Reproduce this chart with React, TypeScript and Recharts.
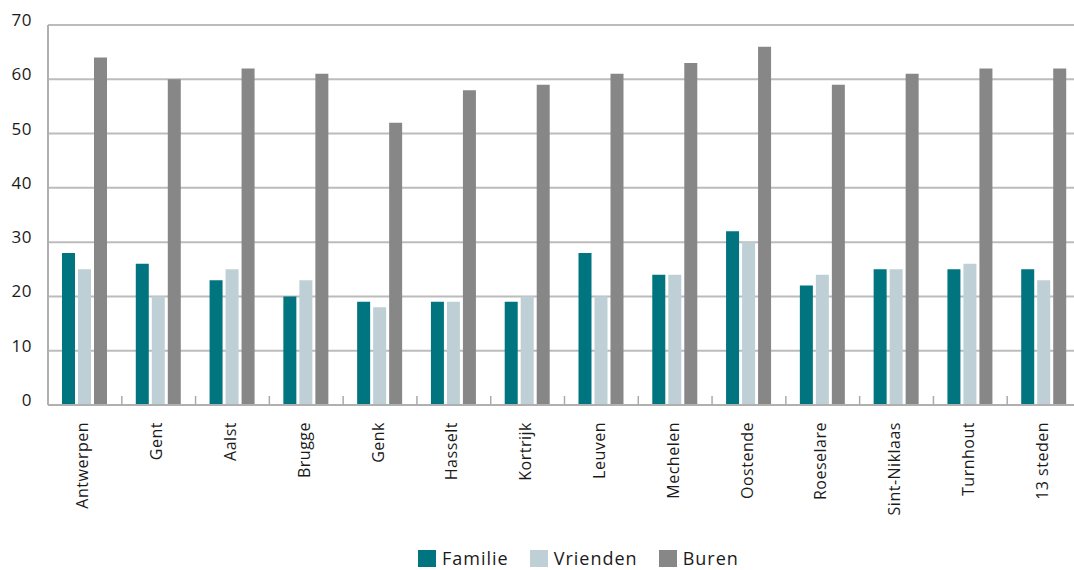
import React from 'react';
import { BarChart, Bar, XAxis, YAxis, CartesianGrid, Legend } from 'recharts';

const categories = ['Antwerpen', 'Gent', 'Aalst', 'Brugge', 'Genk', 'Hasselt', 'Kortrijk', 'Leuven', 'Mechelen', 'Oostende', 'Roeselare', 'Sint-Niklaas', 'Turnhout', '13 steden'];
const familie = [28, 26, 23, 20, 19, 19, 19, 28, 24, 32, 22, 25, 25, 25];
const vrienden = [25, 20, 25, 23, 18, 19, 20, 20, 24, 30, 24, 25, 26, 23];
const buren = [64, 60, 62, 61, 52, 58, 59, 61, 63, 66, 59, 61, 62, 62];
const yTicks = [0, 10, 20, 30, 40, 50, 60, 70];

const series = [
  { key: 'Familie', color: '#00747f' },
  { key: 'Vrienden', color: '#bed0d6' },
  { key: 'Buren', color: '#878787' },
];

const data = categories.map((name, i) => ({
  name,
  Familie: familie[i],
  Vrienden: vrienden[i],
  Buren: buren[i],
}));

const FONT = '"Open Sans", "Noto Sans", sans-serif';

const YTick = (props: any) => {
  const { x, y, payload } = props;
  return (
    <text x={x} y={y - 5} dy="0.355em" textAnchor="end" fill="#1a1a1a" fontSize={17} letterSpacing={0.5} fontFamily={FONT}>
      {payload.value}
    </text>
  );
};

const XTick = (props: any) => {
  const { x, y, payload, index, width, visibleTicksCount } = props;
  const half = payload && payload.offset ? payload.offset : width / visibleTicksCount / 2;
  const bx = x - half;
  const axisY = y - 8;
  const tx = x - 2;
  const ty = y + 9;
  return (
    <g>
      {index > 0 && (
        <line x1={bx} x2={bx} y1={axisY} y2={axisY - 9} stroke="#aaaaaa" strokeWidth={1.5} />
      )}
      <text
        x={tx}
        y={ty}
        dy="0.35em"
        textAnchor="end"
        transform={`rotate(-90, ${tx}, ${ty})`}
        fill="#1a1a1a"
        fontSize={16}
        letterSpacing={0.5}
        fontFamily={FONT}
      >
        {payload.value}
      </text>
    </g>
  );
};

const LegendContent = () => (
  <div style={{ display: 'flex', alignItems: 'center', height: 24, paddingLeft: 418, fontFamily: FONT, fontSize: 18, letterSpacing: 1, color: '#1a1a1a' }}>
    {series.map((s) => (
      <div key={s.key} style={{ display: 'flex', alignItems: 'center', marginRight: 21 }}>
        <span style={{ display: 'inline-block', width: 18, height: 17, background: s.color, marginRight: 6 }} />
        <span style={{ lineHeight: '24px' }}>{s.key}</span>
      </div>
    ))}
  </div>
);

export default function App() {
  return (
    <div style={{ position: 'absolute', left: 0, top: 0, width: 1074, height: 570, overflow: 'hidden', background: '#fff' }}>
      <BarChart
        width={1082}
        height={570}
        data={data}
        margin={{ top: 25, right: 1, left: 0, bottom: 0 }}
        barSize={13}
        barGap={3}
      >
        <CartesianGrid vertical={false} stroke="#bcbcbc" strokeWidth={2} />
        <YAxis
          width={48}
          domain={[0, 70]}
          ticks={yTicks}
          interval={0}
          tickLine={false}
          tickSize={6}
          tickMargin={10}
          axisLine={{ stroke: '#b0b0b0', strokeWidth: 2 }}
          tick={<YTick />}
        />
        <XAxis
          dataKey="name"
          height={141}
          interval={0}
          tickLine={false}
          tickSize={6}
          tickMargin={2}
          axisLine={{ stroke: '#b0b0b0', strokeWidth: 2 }}
          tick={<XTick />}
        />
        <Legend content={<LegendContent />} wrapperStyle={{ left: 0, height: 24 }} />
        {series.map((s) => (
          <Bar key={s.key} dataKey={s.key} fill={s.color} isAnimationActive={false} />
        ))}
      </BarChart>
    </div>
  );
}
